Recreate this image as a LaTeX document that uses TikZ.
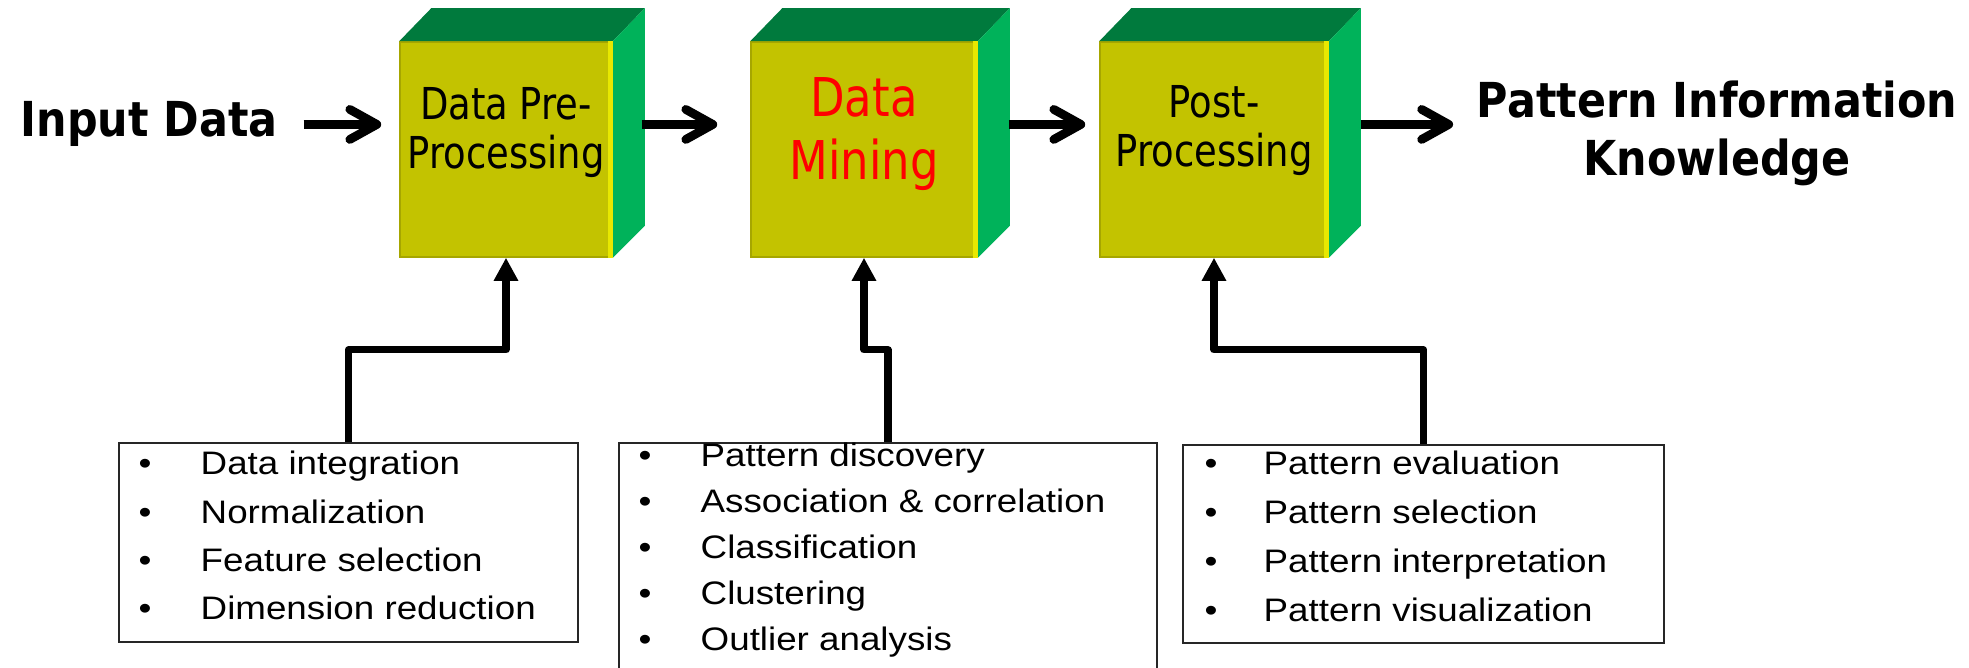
\documentclass[tikz,border=0pt]{standalone}
\usepackage{fontspec}
\setmainfont{Liberation Sans}
\newfontfamily\headfont[FakeStretch=0.89]{DejaVu Sans Bold}
\newfontfamily\cubefont[FakeStretch=0.84]{DejaVu Sans}
\newfontfamily\listfont[FakeStretch=1.13]{Liberation Sans}
\usetikzlibrary{arrows.meta,positioning,calc}

\definecolor{cubefront}{RGB}{195,195,0}
\definecolor{cubetop}{RGB}{0,122,61}
\definecolor{cubeside}{RGB}{0,178,90}
\definecolor{cubeedge}{RGB}{232,232,0}

\tikzset{
  cube/.style={fill=cubefront, draw=cubefront!85!black, line width=0.4pt, inner sep=0pt, minimum height=2.15cm},
  cubetext/.style={font=\cubefont\fontsize{12.5}{13.7}\selectfont, align=center, inner sep=0pt, anchor=north},
  headtext/.style={font=\headfont\fontsize{13.7}{16.5}\selectfont, align=center, inner sep=0pt},
  listbox/.style={draw=black!85, line width=0.6pt, inner sep=0pt},
  item/.style={font=\listfont\fontsize{9.25}{11}\selectfont, inner sep=0pt, anchor=base west},
  flow/.style={line width=2.5pt, -{Straight Barb[length=0.27cm, width=0.3cm, round]}},
  feed/.style={line width=2pt, line join=round, -{Triangle[length=0.23cm, width=0.23cm]}},
}

\begin{document}
\begin{tikzpicture}[x=0.01cm, y=-0.01cm]
\useasboundingbox (0,0) rectangle (1969,668);
\clip (0,0) rectangle (1969,668);

% the three cubes
\node[cube, minimum width=2.12cm] (pre) at (506,149.5) {};
\node[cube, minimum width=2.26cm] (mine) at (864,149.5) {};
\node[cube, minimum width=2.28cm] (post) at (1214,149.5) {};
\foreach \b in {pre,mine,post} {
  \fill[cubetop] (\b.north west) -- ++(32,-33) -- ($(\b.north east)+(32,-33)$) -- (\b.north east) -- cycle;
  \fill[cubeside] (\b.north east) -- ++(32,-33) -- ($(\b.south east)+(32,-32)$) -- (\b.south east) -- cycle;
  \fill[cubeedge] ($(\b.north east)+(-5,0)$) rectangle (\b.south east);
}
\node[cubetext] (pretext) at ($(pre.north)+(0,46)$) {Data Pre-\\Processing};
\node[cubetext, font=\cubefont\fontsize{15.2}{17.9}\selectfont, text=red] (minetext) at ($(mine.north)+(0,36)$) {Data\\Mining};
\node[cubetext] (posttext) at ($(post.north)+(0,44)$) {Post-\\Processing};

% input and output
\node[headtext, anchor=base west] (input) at (20,137) {Input Data};
\node[headtext, anchor=north] (output) at (1717,80) {Pattern Information\\Knowledge};

\draw[flow, shorten <=0.25cm, shorten >=0.18cm] (input.east) -- (pre.west |- input.east);
\draw[flow, shorten <=0.29cm, shorten >=0.33cm] (pre.east |- input.east) -- (mine.west |- input.east);
\draw[flow, shorten <=0.31cm, shorten >=0.14cm] (mine.east |- input.east) -- (post.west |- input.east);
\draw[flow, shorten <=0.32cm, shorten >=0.23cm] (post.east |- input.east) -- (output.west |- input.east);

% task lists
\node[listbox, minimum width=4.59cm, minimum height=1.99cm] (prelist) at (348.5,542.5) {};
\node[listbox, minimum width=5.38cm, minimum height=2.57cm] (minelist) at (888,571.5) {};
\node[listbox, minimum width=4.81cm, minimum height=1.98cm] (postlist) at (1423.5,544) {};

\foreach \t [count=\i] in {Data integration, Normalization, Feature selection, Dimension reduction}
  \node[item] (preitem\i) at (138, 475+48.3*\i-48.3) {\makebox[0.62cm][l]{\textbullet}\t};
\foreach \t [count=\i] in {Pattern discovery, Association \& correlation, Classification, Clustering, Outlier analysis}
  \node[item] (mineitem\i) at (638, 467+46*\i-46) {\makebox[0.62cm][l]{\textbullet}\t};
\foreach \t [count=\i] in {Pattern evaluation, Pattern selection, Pattern interpretation, Pattern visualization}
  \node[item] (postitem\i) at (1204, 475+49*\i-49) {\makebox[0.59cm][l]{\textbullet}\t};

\draw[feed] (prelist.north) -- ++(0,-92) -| (pre.south);
\draw[feed] (minelist.north) -- ++(0,-92) -| (mine.south);
\draw[feed] (postlist.north) -- ++(0,-94) -| (post.south);
\end{tikzpicture}
\end{document}
